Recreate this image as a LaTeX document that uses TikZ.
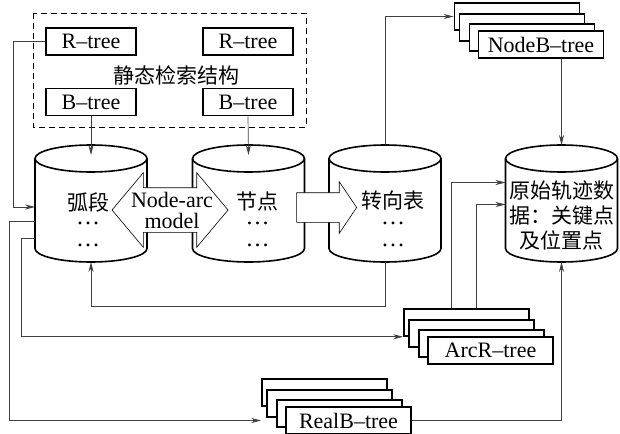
\documentclass[tikz,border=0pt]{standalone}
\usepackage{fontspec}
\setmainfont{Liberation Serif}
\newfontfamily\cjk{Noto Sans CJK SC}
\usetikzlibrary{arrows.meta, calc, positioning, shapes.arrows}

\begin{document}
\begin{tikzpicture}[x=1pt, y=-1pt, >={Stealth[length=10pt,width=5pt]},
        font=\fontsize{22}{24}\selectfont,
        conn/.style={black!75, line width=0.7pt},
        idxbox/.style={draw, line width=1.6pt, minimum width=90pt, minimum height=27pt, inner sep=0pt},
        treebox/.style={draw, line width=1.6pt, fill=white, minimum width=125pt, minimum height=27pt, inner sep=0pt},
        dbframe/.style={minimum width=112pt, minimum height=117pt, inner sep=0pt, outer sep=0pt},
        dbline/.style={line width=1.6pt},
        zh/.style={font=\cjk\fontsize{21}{25}\selectfont},
        dots/.style={font=\fontsize{24}{24}\selectfont, inner sep=0pt}]
        \useasboundingbox (0,0) rectangle (620,433);
        % static index structures
        \draw[line width=0.8pt, dash pattern=on 6pt off 4pt] (33,13) rectangle (306,127);
        \node[idxbox] (rtA) at (91,41.5) {R--tree};
        \node[idxbox] (rtB) at (248,41.5) {R--tree};
        \node[idxbox] (btA) at (91,102) {B--tree};
        \node[idxbox] (btB) at (248,102) {B--tree};
        \node[zh] (static) at (176,75) {静态检索结构};
        % databases
        \node[dbframe] (arc) at (91,203.5) {};
        \node[dbframe] (nd) at (248.5,203.5) {};
        \node[dbframe] (turn) at (385,203.5) {};
        \node[dbframe] (raw) at (561.5,203.5) {};
        \foreach \c in {arc, nd, turn, raw} {
            \draw[dbline, fill=white] ($(\c.north west)+(0,13.5)$) -- ($(\c.south west)+(0,-13.5)$)
                arc[start angle=180, end angle=360, x radius=56pt, y radius=13.5pt]
                -- ($(\c.north east)+(0,13.5)$)
                arc[start angle=0, end angle=180, x radius=56pt, y radius=13.5pt] -- cycle;
            \draw[dbline] ($(\c.north west)+(0,13.5)$) arc[start angle=180, end angle=360, x radius=56pt, y radius=13.5pt];
        }
        \node[zh] (arcname) at ($(arc.center)+(-3,-1.5)$) {弧段};
        \node[dots] (arcdA) at ($(arc.center)+(-3,19.5)$) {…};
        \node[dots] (arcdB) at ($(arc.center)+(-3,41.5)$) {…};
        \node[zh] (ndname) at ($(nd.center)+(9,-1.5)$) {节点};
        \node[dots] (nddA) at ($(nd.center)+(9,19.5)$) {…};
        \node[dots] (nddB) at ($(nd.center)+(9,41.5)$) {…};
        \node[zh] (turnname) at ($(turn.center)+(8,-3)$) {转向表};
        \node[dots] (turndA) at ($(turn.center)+(8,19.5)$) {…};
        \node[dots] (turndB) at ($(turn.center)+(8,41.5)$) {…};
        \node[zh, align=center, inner sep=0pt] (rawname) at ($(raw.center)+(0,12)$) {原始轨迹数\\据：关键点\\及位置点};
        % node-arc model and flow arrow
        \node[double arrow, draw, fill=white, line width=0.6pt, minimum height=116pt,
            double arrow head extend=15pt, double arrow tip angle=100, inner xsep=0pt, inner ysep=22pt] (model) at (170,210) {};
        \node[align=center, inner sep=0pt, font=\fontsize{22}{21}\selectfont] (modeltext) at (172,210) {Node-arc\\model};
        \node[single arrow, draw, fill=white, line width=0.6pt, minimum height=60pt,
            single arrow head extend=11pt, single arrow tip angle=112, inner xsep=0pt, inner ysep=14.5pt, anchor=tip] (flow) at (357,207.5) {};
        % tree stacks
        \coordinate (nbpos) at (541,44.5);
        \coordinate (abpos) at (490.5,350.5);
        \coordinate (rbpos) at (348.5,420.5);
        \foreach \dx/\dy/\n in {-24/-28/1, -19/-17/2, -9/-7/3} {
            \node[treebox] (nb\n) at ($(nbpos)+(\dx,\dy)$) {};
            \node[treebox] (ab\n) at ($(abpos)+(\dx,\dy)$) {};
            \node[treebox] (rb\n) at ($(rbpos)+(\dx,\dy)$) {};
        }
        \node[treebox] (nb) at (nbpos) {NodeB--tree};
        \node[treebox] (ab) at (abpos) {ArcR--tree};
        \node[treebox] (rb) at (rbpos) {RealB--tree};
        % connectors
        \draw[conn, ->] (rtA.west) -- ++(-32,0) |- ($(arc.west)+(0,3.5)$);
        \draw[conn, ->] ($(arc.west)+(0,17.5)$) -- ++(-26,0) |- (rb1.west |- rb.west);
        \draw[conn, ->] ($(arc.west)+(0,34.5)$) -- ++(-14,0) |- (ab1.south west);
        \draw[conn, ->] (btA.south) -- ($(arc.north)+(0,10)$);
        \draw[conn, ->] (btB.south) -- ($(nd.north)+(0,10)$);
        \draw[conn, ->] (turn.south) -- ++(0,44) -| (arc.south);
        \draw[conn, ->] (turn.north) |- (nb1.west);
        \draw[conn, ->] (raw.north |- nb.south) -- (raw.north);
        \draw[conn, ->] (rb.east) -| (raw.south);
        \draw[conn, ->] ($(ab1.north west)+(48,0)$) |- ($(raw.west)+(0,-21)$);
        \draw[conn, ->] ($(ab1.north west)+(73,0)$) |- ($(raw.west)+(0,1)$);
    \end{tikzpicture}
\end{document}
